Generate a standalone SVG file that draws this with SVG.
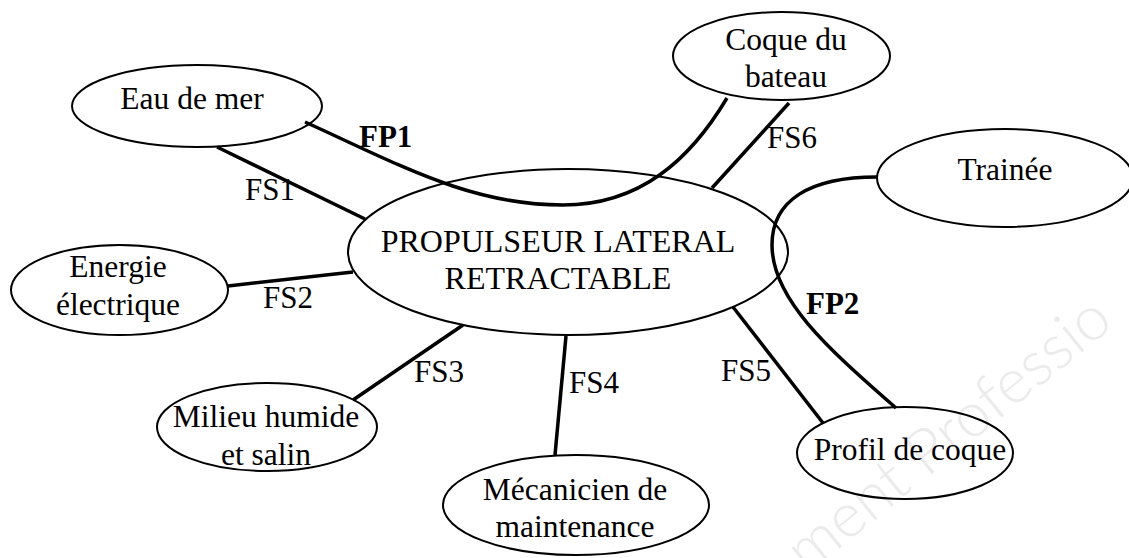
<svg xmlns="http://www.w3.org/2000/svg" width="1129" height="558" viewBox="0 0 1129 558">
<style>
.wm{font-family:Lato,"Open Sans",sans-serif;font-weight:300;font-size:62px;fill:#ebebeb}
.node ellipse{fill:none;stroke:#000;stroke-width:2}
.node text{font-family:"Liberation Serif","Times New Roman",serif;font-size:31.5px;fill:#000;text-anchor:middle}
#main text{font-size:32px}
.conn{fill:none;stroke:#000;stroke-width:3.5;stroke-linecap:butt}
.lbl{font-family:"Liberation Serif","Times New Roman",serif;font-size:31px;fill:#000}
.lbl.b{font-weight:bold}
</style>
<rect width="1129" height="558" fill="#fff"/>
<text class="wm" x="807" y="575" transform="rotate(-39 807 575)">ment Professio</text>
<g id="connectors">
<path class="conn" d="M217,147 L365,219"/>
<path class="conn" d="M228,286 L353,272"/>
<path class="conn" d="M463,325 L353,400"/>
<path class="conn" d="M566,336 L555,455"/>
<path class="conn" d="M733,307 L823,423"/>
<path class="conn" d="M789,103 L712,188"/>
<path class="conn" d="M305,122 C400,165 470,205 563,205 C640,205 690,160 727,98"/>
<path class="conn" d="M877,177 C810,177 772,200 772,245 C772,300 830,350 896,408"/>
<text class="lbl" x="245" y="200">FS1</text>
<text class="lbl" x="263" y="308">FS2</text>
<text class="lbl" x="414" y="382">FS3</text>
<text class="lbl" x="569" y="393">FS4</text>
<text class="lbl" x="721" y="381">FS5</text>
<text class="lbl" x="767" y="148">FS6</text>
<text class="lbl b" x="359" y="147">FP1</text>
<text class="lbl b" x="806" y="314">FP2</text>
</g>
<g id="main" class="node">
<ellipse cx="568" cy="252" rx="220" ry="83"/>
<text x="558" y="252">PROPULSEUR LATERAL</text>
<text x="558" y="289">RETRACTABLE</text>
</g>
<g id="eau" class="node">
<ellipse cx="197" cy="106" rx="125" ry="41"/>
<text x="192" y="109">Eau de mer</text>
</g>
<g id="coque" class="node">
<ellipse cx="781.5" cy="56" rx="108.5" ry="44"/>
<text x="786" y="50">Coque du</text>
<text x="786" y="87">bateau</text>
</g>
<g id="trainee" class="node">
<ellipse cx="1005" cy="178" rx="128" ry="49"/>
<text x="1005" y="180">Trainée</text>
</g>
<g id="energie" class="node">
<ellipse cx="119.5" cy="290" rx="108.5" ry="45"/>
<text x="118" y="277">Energie</text>
<text x="118" y="315">électrique</text>
</g>
<g id="milieu" class="node">
<ellipse cx="267" cy="427" rx="110" ry="44"/>
<text x="266" y="427">Milieu humide</text>
<text x="266" y="465">et salin</text>
</g>
<g id="mecanicien" class="node">
<ellipse cx="576" cy="505" rx="133" ry="50"/>
<text x="575" y="500">Mécanicien de</text>
<text x="575" y="537">maintenance</text>
</g>
<g id="profil" class="node">
<ellipse cx="905" cy="453" rx="108" ry="46"/>
<text x="910" y="460">Profil de coque</text>
</g>
</svg>
